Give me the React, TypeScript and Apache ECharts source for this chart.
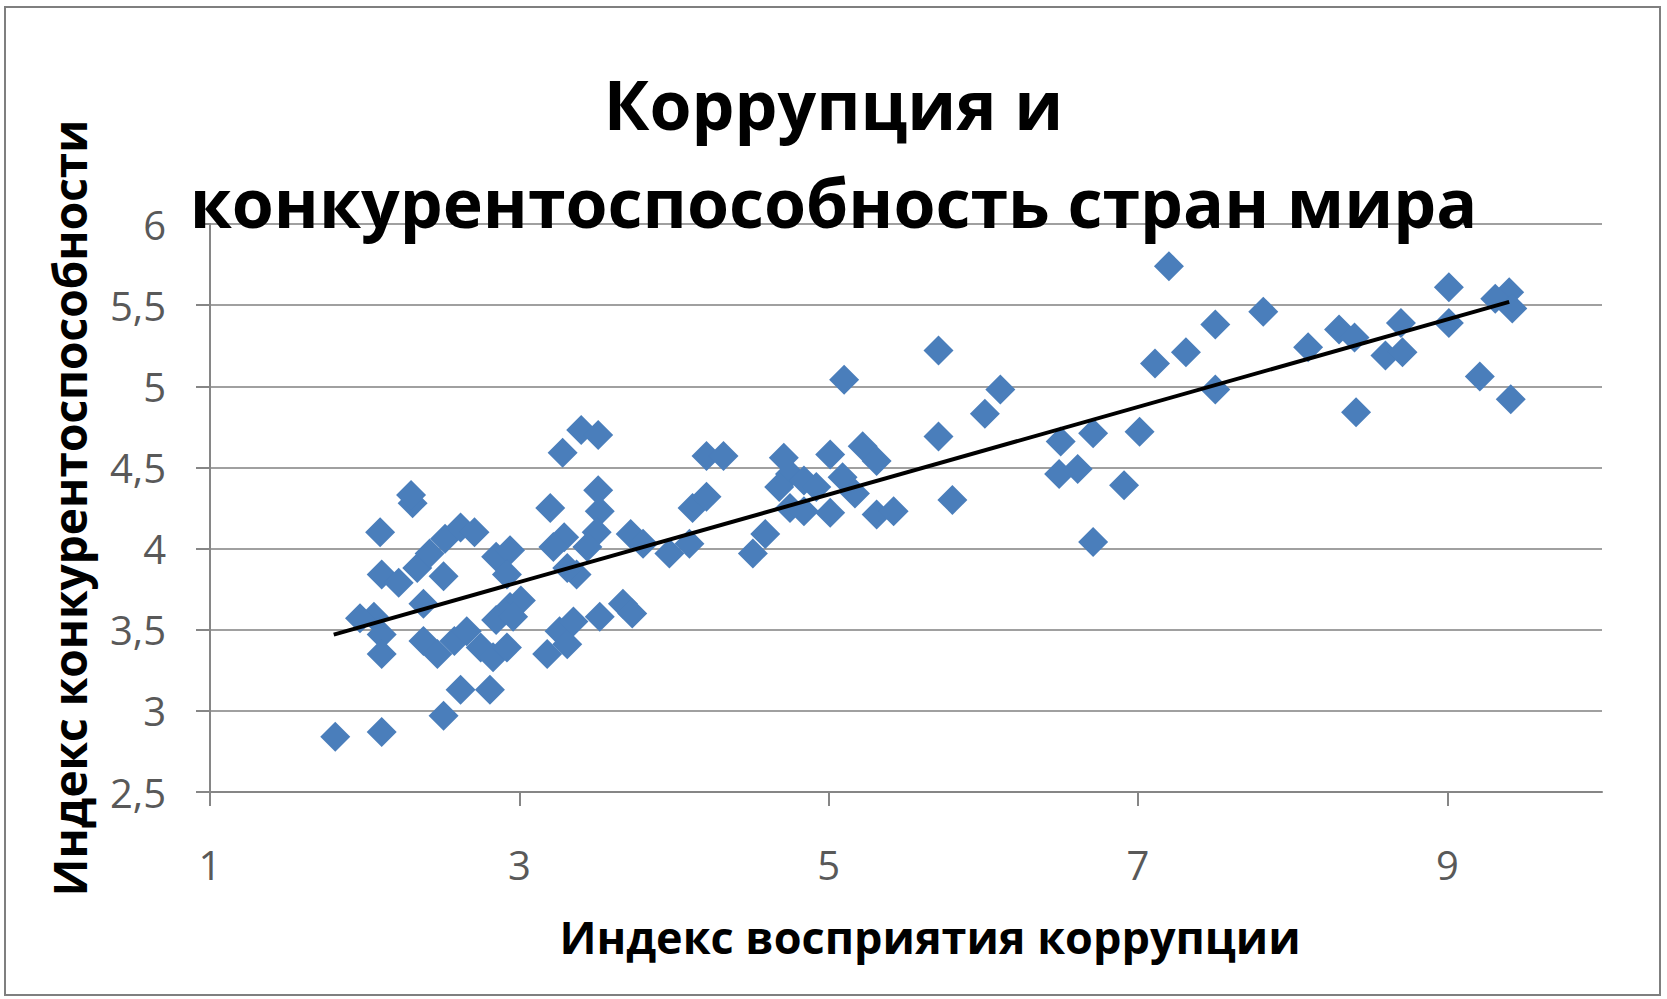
import React, { useEffect, useRef } from "react";
import * as echarts from "echarts";

// Индекс восприятия коррупции (x) и индекс конкурентоспособности (y)
const corruptionIndex = [
  1.81, 2.11, 2.51, 2.62, 2.81, 2.31, 2.30, 2.10, 2.11, 2.22,
  2.34, 2.42, 2.52, 2.62, 2.71, 2.51, 2.85, 2.94, 2.06, 2.11,
  2.11, 1.97, 2.38, 2.38, 2.47, 2.58, 2.66, 2.75, 2.83, 2.92,
  2.85, 2.94, 2.92, 3.01, 2.96, 3.28, 3.40, 3.51, 3.20, 3.29,
  3.22, 3.51, 3.52, 3.50, 3.44, 3.72, 3.80, 3.37, 3.31, 3.97,
  3.67, 3.73, 3.52, 3.26, 3.31, 3.18, 3.35, 4.10, 4.12, 4.21,
  5.71, 5.10, 5.71, 5.80, 4.21, 4.32, 4.51, 4.59, 4.71, 4.75,
  4.68, 4.84, 4.92, 5.01, 4.75, 4.84, 5.01, 5.22, 5.31, 5.09,
  5.17, 5.31, 5.42, 7.20, 7.81, 7.50, 7.31, 7.11, 7.50, 6.11,
  6.01, 7.01, 6.71, 6.50, 6.49, 6.61, 6.91, 6.71, 9.01, 9.01,
  9.40, 9.31, 9.42, 8.10, 8.30, 8.40, 8.70, 8.60, 8.71, 8.41,
  9.21, 9.41,
];
const competitivenessIndex = [
  2.84, 2.87, 2.97, 3.13, 3.13, 4.28, 4.33, 4.10, 3.84, 3.79,
  3.88, 3.97, 4.06, 4.13, 4.10, 3.83, 3.95, 3.99, 3.58, 3.47,
  3.35, 3.57, 3.66, 3.43, 3.35, 3.43, 3.49, 3.39, 3.33, 3.39,
  3.56, 3.64, 3.84, 3.68, 3.58, 4.59, 4.73, 4.70, 4.25, 4.07,
  4.01, 4.36, 4.23, 4.10, 4.01, 4.09, 4.03, 3.84, 3.88, 3.97,
  3.66, 3.60, 3.58, 3.49, 3.41, 3.35, 3.55, 4.03, 4.25, 4.32,
  5.22, 5.04, 4.69, 4.30, 4.57, 4.57, 3.97, 4.09, 4.56, 4.46,
  4.38, 4.42, 4.38, 4.58, 4.25, 4.23, 4.22, 4.63, 4.54, 4.44,
  4.34, 4.21, 4.23, 5.74, 5.46, 5.38, 5.21, 5.14, 4.98, 4.98,
  4.83, 4.72, 4.71, 4.66, 4.46, 4.49, 4.39, 4.04, 5.61, 5.39,
  5.58, 5.54, 5.48, 5.24, 5.35, 5.30, 5.39, 5.19, 5.21, 4.84,
  5.06, 4.92,
];

// Линейный тренд (концы линии)
const trendX = [1.8, 9.4];
const trendY = [3.47, 5.52];

const xTickValues = [1, 3, 5, 7, 9];

const TITLE = "Коррупция и\nконкурентоспособность стран мира";
const X_NAME = "Индекс восприятия коррупции";
const Y_NAME = "Индекс конкурентоспособности";

export default function App() {
  const ref = useRef<HTMLDivElement>(null);

  useEffect(() => {
    document.body.style.margin = "0";
    const chart = echarts.init(ref.current!, null, { renderer: "svg" });
    const points = corruptionIndex.map((x, i) => [x, competitivenessIndex[i]]);
    const trend = trendX.map((x, i) => [x, trendY[i]]);
    const font = "'Open Sans', 'Noto Sans', sans-serif";

    chart.setOption({
      animation: false,
      backgroundColor: "#ffffff",
      title: {
        text: TITLE,
        left: "center",
        top: 49,
        textStyle: {
          fontFamily: font,
          fontSize: 68,
          fontWeight: "bold",
          color: "#000000",
          lineHeight: 98,
        },
      },
      graphic: [
        {
          type: "rect",
          shape: { x: 5, y: 7, width: 1655, height: 988 },
          style: { fill: "none", stroke: "#7f7f7f", lineWidth: 2 },
          silent: true,
        },
      ],
      grid: { left: 210, top: 224, right: 65, bottom: 207, containLabel: false },
      xAxis: {
        type: "value",
        min: 1,
        max: 10,
        name: X_NAME,
        nameLocation: "middle",
        nameGap: 122,
        nameTextStyle: {
          fontFamily: font,
          fontSize: 45,
          fontWeight: "bold",
          color: "#000000",
          padding: [0, 0, 0, 48],
        },
        splitLine: { show: false },
        axisLine: { show: true, lineStyle: { color: "#868686", width: 2 } },
        axisTick: {
          show: true,
          length: 14,
          customValues: xTickValues,
          lineStyle: { color: "#868686", width: 2 },
        },
        axisLabel: {
          customValues: xTickValues,
          margin: 52,
          fontFamily: font,
          fontSize: 40,
          color: "#595959",
        },
      },
      yAxis: {
        type: "value",
        min: 2.5,
        max: 6,
        interval: 0.5,
        name: Y_NAME,
        nameLocation: "middle",
        nameGap: 118,
        nameRotate: 90,
        nameTextStyle: {
          fontFamily: font,
          fontSize: 46,
          fontWeight: "bold",
          color: "#000000",
        },
        axisLine: { show: true, lineStyle: { color: "#868686", width: 2 } },
        axisTick: { show: true, length: 14, lineStyle: { color: "#868686", width: 2 } },
        axisLabel: {
          margin: 44,
          fontFamily: font,
          fontSize: 40,
          color: "#595959",
          formatter: (v: number) => String(v).replace(".", ","),
        },
        splitLine: { show: true, lineStyle: { color: "#a0a0a0", width: 2 } },
      },
      series: [
        {
          type: "scatter",
          data: points,
          symbol: "diamond",
          symbolSize: 30,
          itemStyle: { color: "#4A7EBB", opacity: 1 },
          z: 2,
        },
        {
          type: "line",
          data: trend,
          symbol: "none",
          lineStyle: { color: "#000000", width: 4 },
          z: 3,
        },
      ],
    });

    return () => chart.dispose();
  }, []);

  return <div ref={ref} style={{ width: 1667, height: 999 }} />;
}
